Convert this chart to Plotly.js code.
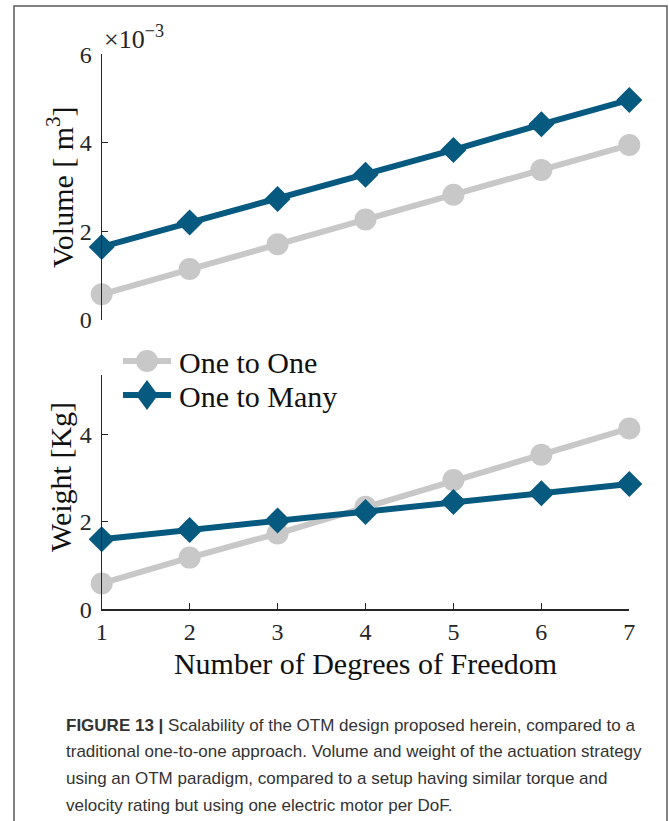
<!DOCTYPE html>
<html>
<head>
<meta charset="utf-8">
<script src="https://cdn.plot.ly/plotly-3.0.1.min.js"></script>
<style>
  html, body { margin: 0; padding: 0; background: #fff; }
  #fig { width: 669px; height: 821px; }
</style>
</head>
<body>
<div id="fig"></div>
<script>
// Degrees of freedom on the shared x axis
const dof = [1, 2, 3, 4, 5, 6, 7];

// Actuation volume [m^3]
const volumeOneToOne  = [0.58e-3, 1.15e-3, 1.71e-3, 2.27e-3, 2.83e-3, 3.39e-3, 3.95e-3];
const volumeOneToMany = [1.65e-3, 2.20e-3, 2.73e-3, 3.28e-3, 3.84e-3, 4.42e-3, 4.97e-3];

// Actuation weight [Kg]
const weightOneToOne  = [0.59, 1.18, 1.73, 2.34, 2.95, 3.53, 4.13];
const weightOneToMany = [1.60, 1.81, 2.03, 2.22, 2.45, 2.65, 2.86];

const seriesNames = ['One to One', 'One to Many'];
const volumeTicks = [0, 2e-3, 4e-3, 6e-3];
const volumeTickText = ['0', '2', '4', '6'];
const weightTicks = [0, 2, 4];
const dofTicks = [1, 2, 3, 4, 5, 6, 7];

const captionLines = [
  '<b>FIGURE 13 |</b> Scalability of the OTM design proposed herein, compared to a',
  'traditional one-to-one approach. Volume and weight of the actuation strategy',
  'using an OTM paradigm, compared to a setup having similar torque and',
  'velocity rating but using one electric motor per DoF.'
];

const W = 669, H = 821;
const GRAY = '#c8c8c8';
const BLUE = '#06597f';
const INK = '#262626';
const TEXT = '#111';
const SERIF = 'Liberation Serif, Times New Roman, serif';

const oneStyle = {
  mode: 'lines+markers', cliponaxis: false, showlegend: false,
  line: { color: GRAY, width: 6 },
  marker: { symbol: 'circle', size: 22, color: GRAY }
};
const manyStyle = {
  mode: 'lines+markers', cliponaxis: false, showlegend: false,
  line: { color: BLUE, width: 6 },
  marker: { symbol: 'diamond', size: 20, color: BLUE }
};

const traces = [
  Object.assign({ x: dof, y: volumeOneToOne, xaxis: 'x', yaxis: 'y', name: seriesNames[0] }, oneStyle),
  Object.assign({ x: dof, y: volumeOneToMany, xaxis: 'x', yaxis: 'y', name: seriesNames[1] }, manyStyle),
  Object.assign({ x: dof, y: weightOneToOne, xaxis: 'x2', yaxis: 'y2', name: seriesNames[0] }, oneStyle),
  Object.assign({ x: dof, y: weightOneToMany, xaxis: 'x2', yaxis: 'y2', name: seriesNames[1] }, manyStyle)
];

// pixel -> paper helpers for the fixed page size
const px = v => v / W;
const py = v => (H - v) / H;

const xDomain = [px(101.7), px(629.3)];

const yCommon = {
  showline: true, linecolor: INK, linewidth: 1.2,
  ticks: 'inside', ticklen: 6, tickwidth: 1.2, tickcolor: INK,
  showgrid: false, zeroline: false, automargin: false,
  tickfont: { family: SERIF, size: 24, color: INK },
  ticklabelstandoff: 4
};

// Legend drawn as a key in the upper-left of the weight panel
const keyLeft = 123, keyRight = 171, keyMid = 147, keyText = 177;
const keyRows = [361, 395];
const legendShapes = [
  { type: 'line', xref: 'paper', yref: 'paper', x0: px(keyLeft), x1: px(keyRight),
    y0: py(keyRows[0]), y1: py(keyRows[0]), line: { color: GRAY, width: 6 } },
  { type: 'circle', xref: 'paper', yref: 'paper', x0: px(keyMid - 11), x1: px(keyMid + 11),
    y0: py(keyRows[0] + 11), y1: py(keyRows[0] - 11), fillcolor: GRAY, line: { width: 0 } },
  { type: 'line', xref: 'paper', yref: 'paper', x0: px(keyLeft), x1: px(keyRight),
    y0: py(keyRows[1]), y1: py(keyRows[1]), line: { color: BLUE, width: 6 } },
  { type: 'path', xref: 'paper', yref: 'paper', fillcolor: BLUE, line: { width: 0 },
    path: 'M ' + px(keyMid) + ' ' + py(keyRows[1] - 15) +
          ' L ' + px(keyMid + 11) + ' ' + py(keyRows[1]) +
          ' L ' + px(keyMid) + ' ' + py(keyRows[1] + 15) +
          ' L ' + px(keyMid - 11) + ' ' + py(keyRows[1]) + ' Z' }
];
const legendLabels = seriesNames.map((name, i) => ({
  xref: 'paper', yref: 'paper', x: px(keyText), y: py(keyRows[i] + 1),
  xanchor: 'left', yanchor: 'middle', showarrow: false,
  text: name, font: { family: SERIF, size: 30, color: TEXT }
}));

const layout = {
  width: W, height: H,
  margin: { l: 0, r: 0, t: 0, b: 0 },
  paper_bgcolor: '#fff', plot_bgcolor: 'rgba(0,0,0,0)',
  showlegend: false,
  xaxis: {
    domain: xDomain, anchor: 'y', range: [1, 7],
    visible: false, showgrid: false, zeroline: false
  },
  yaxis: Object.assign({}, yCommon, {
    domain: [py(320), py(54.3)], anchor: 'x', range: [0, 6e-3],
    tickvals: volumeTicks, ticktext: volumeTickText
  }),
  xaxis2: {
    domain: xDomain, anchor: 'y2', range: [1, 7],
    tickvals: dofTicks,
    showline: true, linecolor: INK, linewidth: 1.2,
    ticks: 'inside', ticklen: 6, tickwidth: 1.2, tickcolor: INK,
    showgrid: false, zeroline: false, automargin: false,
    tickfont: { family: SERIF, size: 24, color: INK },
    ticklabelstandoff: 1,
    title: { text: 'Number of Degrees of Freedom', standoff: 8,
      font: { family: SERIF, size: 30, color: TEXT } }
  },
  yaxis2: Object.assign({}, yCommon, {
    domain: [py(609.3), py(375)], anchor: 'x2', range: [0, 5.35],
    tickvals: weightTicks
  }),
  annotations: [
    // axis scale factor for the volume panel
    {
      xref: 'paper', yref: 'paper', x: px(102), y: py(56),
      xanchor: 'left', yanchor: 'bottom', showarrow: false,
      text: '×10<sup>−3</sup>',
      font: { family: SERIF, size: 26, color: INK }
    },
    // y axis titles
    {
      xref: 'paper', yref: 'paper', x: px(60), y: py(187),
      xanchor: 'center', yanchor: 'middle', showarrow: false, textangle: -90,
      text: 'Volume [ m<sup>3</sup>]',
      font: { family: SERIF, size: 30, color: TEXT }
    },
    {
      xref: 'paper', yref: 'paper', x: px(60), y: py(477),
      xanchor: 'center', yanchor: 'middle', showarrow: false, textangle: -90,
      text: 'Weight [Kg]',
      font: { family: SERIF, size: 30, color: TEXT }
    }
  ].concat(legendLabels).concat(captionLines.map((t, i) => ({
    xref: 'paper', yref: 'paper', x: px(64), y: py(725 + i * 26.7),
    xanchor: 'left', yanchor: 'middle', showarrow: false, align: 'left',
    text: t,
    font: { family: 'Liberation Sans, Arial, sans-serif', size: 17, color: '#333' }
  }))),
  shapes: [
    {
      type: 'rect', xref: 'paper', yref: 'paper', layer: 'below',
      x0: px(14), x1: px(667), y0: -0.02, y1: py(6),
      line: { color: '#5a5a5a', width: 1.5 }, fillcolor: 'rgba(0,0,0,0)'
    }
  ].concat(legendShapes)
};

Plotly.newPlot('fig', traces, layout, { staticPlot: true, displayModeBar: false });
</script>
</body>
</html>
